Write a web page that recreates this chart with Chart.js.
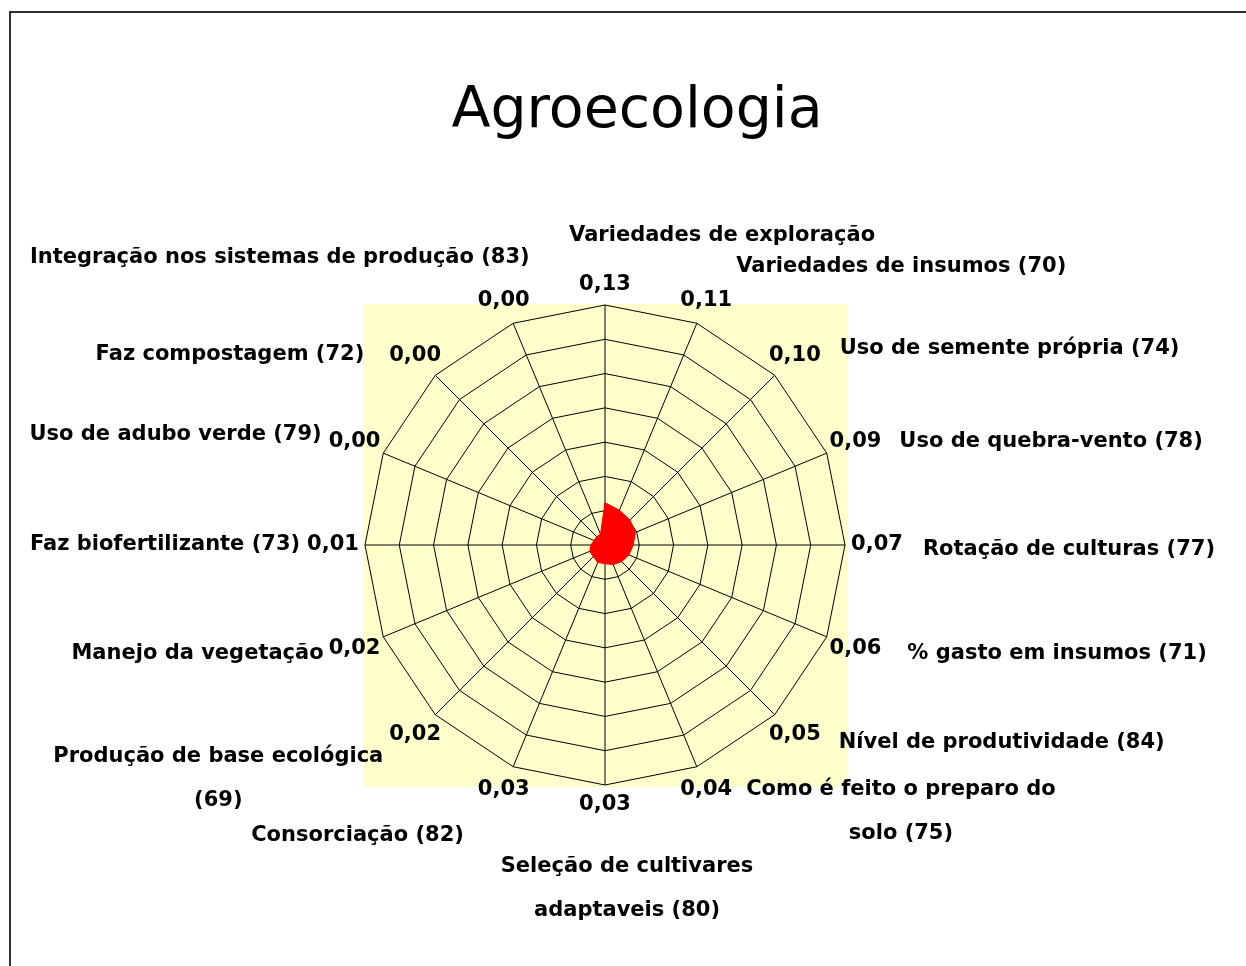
<!DOCTYPE html>
<html>
<head>
<meta charset="utf-8">
<script src="https://cdn.jsdelivr.net/npm/chart.js@4.4.0/dist/chart.umd.min.js"></script>
<style>
  html, body { margin: 0; padding: 0; background: #fff; overflow: hidden; }
  #frame { position: absolute; left: 9px; top: 11px; width: 1300px; height: 1000px; border: 2px solid #303030; box-sizing: border-box; }
  #wrap { position: absolute; left: 0; top: 0; width: 1246px; height: 966px; }
</style>
</head>
<body>
<div id="frame"></div>
<div id="wrap"><canvas id="myChart"></canvas></div>
<script>
var titleText = 'Agroecologia';

// axes, clockwise from the top
var categories = [
  'Variedades de exploração',
  'Variedades de insumos (70)',
  'Uso de semente própria (74)',
  'Uso de quebra-vento (78)',
  'Rotação de culturas (77)',
  '% gasto em insumos (71)',
  'Nível de produtividade (84)',
  ['Como é feito o preparo do', 'solo (75)'],
  ['Seleção de cultivares', 'adaptaveis (80)'],
  'Consorciação (82)',
  ['Produção de base ecológica', '(69)'],
  'Manejo da vegetação',
  'Faz biofertilizante (73)',
  'Uso de adubo verde (79)',
  'Faz compostagem (72)',
  'Integração nos sistemas de produção (83)'
];
var values = [0.13, 0.11, 0.10, 0.09, 0.07, 0.06, 0.05, 0.04, 0.03, 0.03, 0.02, 0.02, 0.01, 0.00, 0.00, 0.00];
var axisMin = -0.05;
var axisMax = 0.97;
var ringCount = 8;

// where each category name sits next to its value label:
// [edge of value label, text align, dx, dy]
var catPlace = [
  ['left', 'left', -10, -49],
  ['right', 'left', 4, -34],
  ['right', 'left', 19, -7],
  ['right', 'left', 18, 0],
  ['right', 'left', 20, 5],
  ['right', 'left', 26, 5],
  ['right', 'left', 18, 8],
  ['right', 'left', 14, 0],
  ['center', 'center', 22, 62],
  ['left', 'right', -14, 46],
  ['left', 'right', -6, 22],
  ['left', 'right', -5, 5],
  ['left', 'right', -7, 0],
  ['left', 'right', -7, -7],
  ['left', 'right', -25, -1],
  ['right', 'right', 0, -43]
];

var labelFont = 'bold 21px "Comic Sans MS", "DejaVu Sans", sans-serif';

var radarText = {
  id: 'radarText',
  beforeDraw: function(chart) {
    var a = chart.chartArea, ctx = chart.ctx;
    ctx.save();
    ctx.fillStyle = '#FFFFCC';
    ctx.fillRect(a.left - 2, a.top - 1, a.right - a.left + 5, a.bottom - a.top + 3);
    ctx.restore();
  },
  afterDraw: function(chart) {
    var ctx = chart.ctx, r = chart.scales.r;
    ctx.save();
    ctx.fillStyle = '#000';
    ctx.font = '57px "Comic Sans MS", "DejaVu Sans", sans-serif';
    ctx.textAlign = 'center';
    ctx.textBaseline = 'alphabetic';
    ctx.fillText(titleText, chart.width / 2 + 14, 127);

    ctx.font = labelFont;
    ctx.textBaseline = 'middle';
    ctx.textAlign = 'center';
    for (var i = 0; i < categories.length; i++) {
      var ang = r.getIndexAngle(i);
      var p = r.getPointPosition(i, r.drawingArea + 20 + 12 * Math.abs(Math.sin(ang)));
      var txt = values[i].toFixed(2).replace('.', ',');
      var w = ctx.measureText(txt).width;
      ctx.fillText(txt, p.x, p.y);

      var pl = catPlace[i];
      var ref = pl[0] === 'left' ? p.x - w / 2 : (pl[0] === 'right' ? p.x + w / 2 : p.x);
      var lines = [].concat(categories[i]);
      var bw = 0;
      lines.forEach(function(l) { bw = Math.max(bw, ctx.measureText(l).width); });
      var x0 = ref + pl[2];
      var left = pl[1] === 'left' ? x0 : (pl[1] === 'right' ? x0 - bw : x0 - bw / 2);
      for (var k = 0; k < lines.length; k++) {
        ctx.fillText(lines[k], left + bw / 2, p.y + pl[3] + k * 44);
      }
    }
    ctx.restore();
  }
};

var ctx = document.getElementById('myChart').getContext('2d');
var chart = new Chart(ctx, {
  type: 'radar',
  data: {
    labels: categories,
    datasets: [{
      label: titleText,
      data: values,
      backgroundColor: '#FF0000',
      borderColor: '#FF0000',
      borderWidth: 1,
      pointRadius: 0,
      fill: 'start'
    }]
  },
  options: {
    responsive: true,
    maintainAspectRatio: false,
    animation: false,
    layout: { padding: { left: 365, right: 401, top: 305, bottom: 181 } },
    plugins: {
      legend: { display: false },
      title: { display: false },
      tooltip: { enabled: false }
    },
    scales: {
      r: {
        z: 1,
        min: axisMin,
        max: axisMax,
        ticks: { display: false, count: ringCount },
        grid: { color: '#000', lineWidth: 1, circular: false },
        angleLines: { color: '#000', lineWidth: 1 },
        pointLabels: { display: false }
      }
    }
  },
  plugins: [radarText]
});
</script>
</body>
</html>
